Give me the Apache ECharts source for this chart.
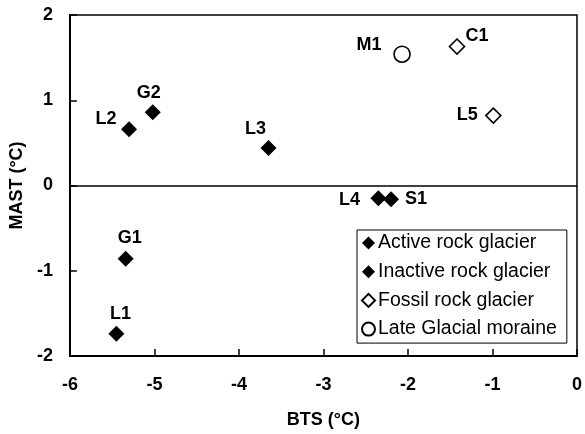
<!DOCTYPE html>
<html>
<head>
<meta charset="utf-8">
<script src="https://cdn.jsdelivr.net/npm/echarts@6/dist/echarts.min.js"></script>
<style>html,body{margin:0;padding:0;background:#fff}#c{width:585px;height:434px}</style>
</head>
<body>
<div id="c"></div>
<script>
// Data: [BTS, MAST, name]
const activeRockGlacier = [[-5.45, -1.74, 'L1'], [-5.34, -0.86, 'G1'], [-5.30, 0.66, 'L2'], [-5.02, 0.86, 'G2']];
const inactiveRockGlacier = [[-3.65, 0.44, 'L3'], [-2.35, -0.15, 'L4'], [-2.20, -0.16, 'S1']];
const fossilRockGlacier = [[-1.42, 1.63, 'C1'], [-0.99, 0.82, 'L5']];
const lateGlacialMoraine = [[-2.07, 1.54, 'M1']];
const seriesNames = ['Active rock glacier', 'Inactive rock glacier', 'Fossil rock glacier', 'Late Glacial moraine'];
const xTicks = [-6, -5, -4, -3, -2, -1, 0];
const yTicks = [-2, -1, 0, 1, 2];

// label placement (layout only)
const labelOffsets = {
  L1: [4, -20], G1: [4, -21], L2: [-23, -10], G2: [-4, -19], L3: [-13, -19],
  L4: [-29, 2], S1: [25, 0], C1: [20, -11], L5: [-26, -1], M1: [-33, -9]
};

const FONT = 'Liberation Sans, Arial, sans-serif';
function toData(arr) {
  return arr.map(d => ({
    value: [d[0], d[1]], name: d[2],
    label: { offset: labelOffsets[d[2]] }
  }));
}
const labelStyle = {
  show: true, position: 'inside', formatter: p => p.name,
  color: '#000', fontSize: 18, fontWeight: 'bold', fontFamily: FONT
};

const chart = echarts.init(document.getElementById('c'), null, { renderer: 'canvas' });
chart.setOption({
  animation: false,
  backgroundColor: '#fff',
  grid: { left: 69, right: 7, top: 15, bottom: 75, show: true, borderColor: '#000', borderWidth: 1.5, backgroundColor: 'transparent' },
  xAxis: {
    type: 'value', min: xTicks[0], max: xTicks[xTicks.length - 1], interval: 1,
    name: 'BTS (°C)', nameLocation: 'middle', nameGap: 55,
    nameTextStyle: { color: '#000', fontSize: 18, fontWeight: 'bold', fontFamily: FONT },
    axisLine: { show: true, onZero: false, lineStyle: { color: '#000', width: 2 } },
    axisTick: { show: true, inside: true, length: 7, lineStyle: { color: '#000', width: 1.5 } },
    axisLabel: { color: '#000', fontSize: 18, fontWeight: 'bold', fontFamily: FONT, margin: 20 },
    splitLine: { show: false }
  },
  yAxis: {
    type: 'value', min: yTicks[0], max: yTicks[yTicks.length - 1], interval: 1,
    name: 'MAST (°C)', nameLocation: 'middle', nameGap: 39,
    nameTextStyle: { color: '#000', fontSize: 18, fontWeight: 'bold', fontFamily: FONT },
    axisLine: { show: true, onZero: false, lineStyle: { color: '#000', width: 2 } },
    axisTick: { show: true, inside: true, length: 7, lineStyle: { color: '#000', width: 1.5 } },
    axisLabel: { color: '#000', fontSize: 18, fontWeight: 'bold', fontFamily: FONT, margin: 17 },
    splitLine: { show: false }
  },
  legend: {
    orient: 'vertical', left: 357, top: 230,
    data: seriesNames,
    backgroundColor: '#fff', borderColor: '#000', borderWidth: 1,
    padding: [3, 10, 4, 4],
    itemWidth: 13, itemHeight: 13, itemGap: 8.7,
    textStyle: { color: '#000', fontSize: 19.5, fontFamily: FONT, lineHeight: 20, padding: [0, 0, 0, -2] },
    selectedMode: false
  },
  series: [
    {
      name: seriesNames[0], type: 'scatter', symbol: 'diamond', symbolSize: 16,
      itemStyle: { color: '#000', opacity: 1 }, label: labelStyle, data: toData(activeRockGlacier),
      markLine: {
        silent: true, symbol: 'none', label: { show: false },
        lineStyle: { color: '#000', width: 1.5, type: 'solid' },
        data: [{ yAxis: 0 }]
      },
      z: 3
    },
    {
      name: seriesNames[1], type: 'scatter', symbol: 'diamond', symbolSize: 16,
      itemStyle: { color: '#000', opacity: 1 }, label: labelStyle, data: toData(inactiveRockGlacier), z: 3
    },
    {
      name: seriesNames[2], type: 'scatter', symbol: 'diamond', symbolSize: 15,
      itemStyle: { color: '#fff', borderColor: '#000', borderWidth: 1.6, opacity: 1 }, label: labelStyle, data: toData(fossilRockGlacier), z: 3
    },
    {
      name: seriesNames[3], type: 'scatter', symbol: 'circle', symbolSize: 16,
      itemStyle: { color: '#fff', borderColor: '#000', borderWidth: 1.6, opacity: 1 }, label: labelStyle, data: toData(lateGlacialMoraine), z: 3
    }
  ]
});
</script>
</body>
</html>
